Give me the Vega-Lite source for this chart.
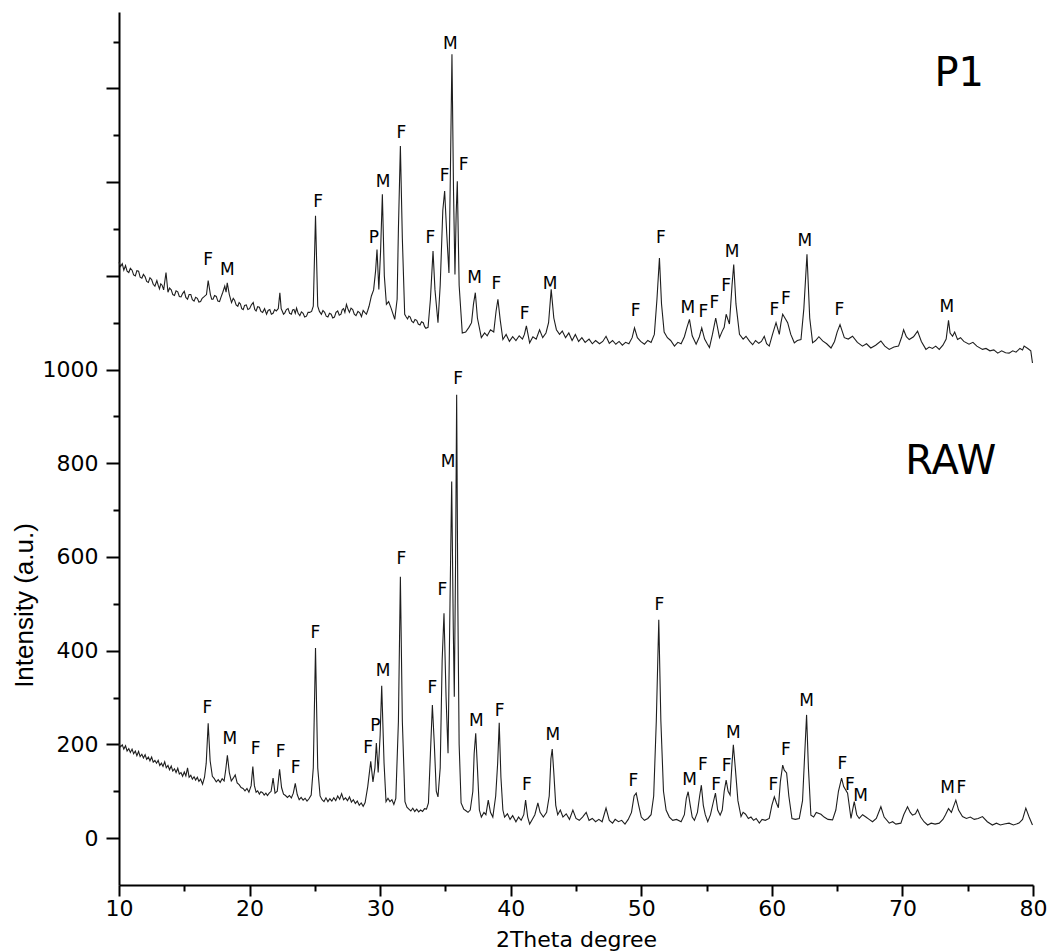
{
  "$schema": "https://vega.github.io/schema/vega-lite/v6.json",
  "width": 914,
  "height": 873,
  "autosize": {"type": "none"},
  "padding": {"left": 119, "top": 12, "right": 19, "bottom": 67},
  "background": "white",
  "config": {"view": {"stroke": null}, "font": "DejaVu Sans"},
  "datasets": {
    "raw": [
      {"x":10.0,"y":201},{"x":10.12,"y":195},{"x":10.25,"y":199},{"x":10.37,"y":190},{"x":10.5,"y":197},{"x":10.62,"y":186},{"x":10.75,"y":191},{"x":10.87,"y":183},{"x":11.0,"y":190},{"x":11.12,"y":180},{"x":11.25,"y":186},{"x":11.37,"y":176},{"x":11.5,"y":185},{"x":11.62,"y":174},{"x":11.75,"y":179},{"x":11.87,"y":171},{"x":12.0,"y":178},{"x":12.12,"y":168},{"x":12.25,"y":173},{"x":12.37,"y":165},{"x":12.5,"y":173},{"x":12.62,"y":162},{"x":12.75,"y":166},{"x":12.87,"y":160},{"x":13.0,"y":166},{"x":13.12,"y":155},{"x":13.25,"y":160},{"x":13.37,"y":153},{"x":13.5,"y":163},{"x":13.62,"y":150},{"x":13.75,"y":155},{"x":13.87,"y":146},{"x":14.0,"y":154},{"x":14.12,"y":143},{"x":14.25,"y":148},{"x":14.37,"y":140},{"x":14.5,"y":149},{"x":14.62,"y":137},{"x":14.75,"y":140},{"x":14.87,"y":132},{"x":15.0,"y":141},{"x":15.12,"y":133},{"x":15.25,"y":150},{"x":15.37,"y":130},{"x":15.5,"y":134},{"x":15.62,"y":126},{"x":15.75,"y":131},{"x":15.87,"y":124},{"x":16.0,"y":130},{"x":16.12,"y":121},{"x":16.25,"y":126},{"x":16.4,"y":115},{"x":16.55,"y":130},{"x":16.68,"y":160},{"x":16.83,"y":245},{"x":16.98,"y":165},{"x":17.15,"y":132},{"x":17.3,"y":127},{"x":17.45,"y":120},{"x":17.6,"y":125},{"x":17.75,"y":119},{"x":17.9,"y":127},{"x":18.05,"y":122},{"x":18.17,"y":145},{"x":18.3,"y":177},{"x":18.45,"y":140},{"x":18.6,"y":122},{"x":18.75,"y":128},{"x":18.9,"y":135},{"x":19.05,"y":118},{"x":19.2,"y":114},{"x":19.35,"y":108},{"x":19.5,"y":106},{"x":19.65,"y":101},{"x":19.8,"y":106},{"x":19.95,"y":98},{"x":20.12,"y":112},{"x":20.25,"y":153},{"x":20.37,"y":112},{"x":20.5,"y":98},{"x":20.62,"y":101},{"x":20.75,"y":94},{"x":20.87,"y":99},{"x":21.0,"y":97},{"x":21.12,"y":92},{"x":21.25,"y":96},{"x":21.37,"y":91},{"x":21.5,"y":96},{"x":21.65,"y":100},{"x":21.8,"y":128},{"x":21.95,"y":96},{"x":22.12,"y":100},{"x":22.3,"y":147},{"x":22.45,"y":108},{"x":22.6,"y":94},{"x":22.75,"y":91},{"x":22.9,"y":87},{"x":23.05,"y":91},{"x":23.2,"y":86},{"x":23.35,"y":96},{"x":23.5,"y":117},{"x":23.65,"y":93},{"x":23.8,"y":82},{"x":23.95,"y":87},{"x":24.1,"y":81},{"x":24.25,"y":85},{"x":24.4,"y":79},{"x":24.55,"y":84},{"x":24.72,"y":92},{"x":24.88,"y":150},{"x":25.05,"y":406},{"x":25.22,"y":150},{"x":25.4,"y":90},{"x":25.55,"y":82},{"x":25.7,"y":78},{"x":25.85,"y":86},{"x":26.0,"y":78},{"x":26.15,"y":84},{"x":26.3,"y":79},{"x":26.45,"y":86},{"x":26.6,"y":80},{"x":26.75,"y":90},{"x":26.9,"y":83},{"x":27.05,"y":95},{"x":27.2,"y":82},{"x":27.35,"y":86},{"x":27.5,"y":80},{"x":27.65,"y":88},{"x":27.8,"y":77},{"x":27.95,"y":82},{"x":28.1,"y":74},{"x":28.25,"y":79},{"x":28.4,"y":70},{"x":28.55,"y":75},{"x":28.7,"y":68},{"x":28.85,"y":76},{"x":29.05,"y":110},{"x":29.28,"y":164},{"x":29.45,"y":120},{"x":29.6,"y":150},{"x":29.71,"y":203},{"x":29.85,"y":140},{"x":30.0,"y":220},{"x":30.12,"y":325},{"x":30.3,"y":160},{"x":30.45,"y":78},{"x":30.6,"y":85},{"x":30.75,"y":78},{"x":30.9,"y":82},{"x":31.05,"y":72},{"x":31.2,"y":85},{"x":31.4,"y":250},{"x":31.55,"y":558},{"x":31.7,"y":250},{"x":31.9,"y":78},{"x":32.05,"y":66},{"x":32.2,"y":62},{"x":32.35,"y":58},{"x":32.5,"y":64},{"x":32.65,"y":57},{"x":32.8,"y":62},{"x":32.95,"y":56},{"x":33.1,"y":60},{"x":33.25,"y":57},{"x":33.4,"y":63},{"x":33.55,"y":62},{"x":33.7,"y":75},{"x":33.85,"y":180},{"x":34.0,"y":284},{"x":34.15,"y":200},{"x":34.3,"y":100},{"x":34.43,"y":88},{"x":34.6,"y":150},{"x":34.75,"y":380},{"x":34.89,"y":480},{"x":35.05,"y":300},{"x":35.2,"y":181},{"x":35.35,"y":500},{"x":35.48,"y":761},{"x":35.6,"y":450},{"x":35.68,"y":302},{"x":35.78,"y":600},{"x":35.86,"y":946},{"x":35.95,"y":500},{"x":36.05,"y":200},{"x":36.2,"y":75},{"x":36.4,"y":62},{"x":36.6,"y":58},{"x":36.73,"y":55},{"x":36.9,"y":60},{"x":37.1,"y":100},{"x":37.2,"y":180},{"x":37.32,"y":224},{"x":37.45,"y":150},{"x":37.6,"y":60},{"x":37.75,"y":45},{"x":37.95,"y":55},{"x":38.1,"y":50},{"x":38.28,"y":81},{"x":38.45,"y":55},{"x":38.63,"y":45},{"x":38.85,"y":90},{"x":39.0,"y":160},{"x":39.12,"y":246},{"x":39.25,"y":130},{"x":39.4,"y":60},{"x":39.53,"y":45},{"x":39.75,"y":52},{"x":39.95,"y":40},{"x":40.15,"y":48},{"x":40.4,"y":35},{"x":40.6,"y":45},{"x":40.8,"y":38},{"x":41.0,"y":50},{"x":41.14,"y":81},{"x":41.3,"y":45},{"x":41.45,"y":30},{"x":41.65,"y":40},{"x":41.85,"y":50},{"x":42.08,"y":75},{"x":42.25,"y":55},{"x":42.5,"y":45},{"x":42.75,"y":55},{"x":42.95,"y":90},{"x":43.08,"y":170},{"x":43.18,"y":190},{"x":43.3,"y":140},{"x":43.45,"y":70},{"x":43.6,"y":50},{"x":43.8,"y":60},{"x":44.0,"y":45},{"x":44.25,"y":52},{"x":44.5,"y":40},{"x":44.76,"y":60},{"x":45.0,"y":42},{"x":45.25,"y":38},{"x":45.5,"y":45},{"x":45.78,"y":55},{"x":46.0,"y":38},{"x":46.25,"y":42},{"x":46.5,"y":35},{"x":46.75,"y":40},{"x":47.0,"y":35},{"x":47.3,"y":64},{"x":47.55,"y":38},{"x":47.8,"y":32},{"x":48.0,"y":40},{"x":48.25,"y":35},{"x":48.5,"y":38},{"x":48.75,"y":30},{"x":49.0,"y":40},{"x":49.25,"y":55},{"x":49.45,"y":90},{"x":49.61,"y":96},{"x":49.8,"y":70},{"x":50.0,"y":45},{"x":50.24,"y":38},{"x":50.5,"y":42},{"x":50.75,"y":50},{"x":50.95,"y":90},{"x":51.15,"y":250},{"x":51.34,"y":466},{"x":51.5,"y":250},{"x":51.7,"y":100},{"x":51.9,"y":60},{"x":52.15,"y":45},{"x":52.41,"y":38},{"x":52.7,"y":40},{"x":53.05,"y":35},{"x":53.3,"y":50},{"x":53.45,"y":85},{"x":53.59,"y":99},{"x":53.75,"y":70},{"x":53.9,"y":45},{"x":54.07,"y":38},{"x":54.3,"y":55},{"x":54.47,"y":90},{"x":54.6,"y":113},{"x":54.75,"y":70},{"x":54.9,"y":50},{"x":55.09,"y":35},{"x":55.3,"y":50},{"x":55.5,"y":75},{"x":55.68,"y":96},{"x":55.85,"y":60},{"x":56.04,"y":49},{"x":56.2,"y":60},{"x":56.35,"y":100},{"x":56.5,"y":124},{"x":56.65,"y":100},{"x":56.8,"y":92},{"x":56.95,"y":160},{"x":57.05,"y":199},{"x":57.2,"y":150},{"x":57.4,"y":80},{"x":57.64,"y":46},{"x":57.8,"y":55},{"x":57.99,"y":51},{"x":58.2,"y":42},{"x":58.4,"y":45},{"x":58.6,"y":38},{"x":58.8,"y":42},{"x":59.04,"y":32},{"x":59.25,"y":40},{"x":59.5,"y":38},{"x":59.8,"y":42},{"x":60.0,"y":70},{"x":60.19,"y":88},{"x":60.35,"y":75},{"x":60.5,"y":65},{"x":60.65,"y":120},{"x":60.83,"y":156},{"x":60.95,"y":145},{"x":61.13,"y":139},{"x":61.3,"y":90},{"x":61.54,"y":42},{"x":61.8,"y":40},{"x":62.1,"y":42},{"x":62.35,"y":80},{"x":62.5,"y":170},{"x":62.66,"y":263},{"x":62.8,"y":150},{"x":62.99,"y":49},{"x":63.2,"y":45},{"x":63.4,"y":55},{"x":63.76,"y":51},{"x":64.0,"y":45},{"x":64.3,"y":40},{"x":64.65,"y":39},{"x":64.9,"y":60},{"x":65.1,"y":100},{"x":65.34,"y":128},{"x":65.5,"y":110},{"x":65.8,"y":96},{"x":66.06,"y":42},{"x":66.31,"y":78},{"x":66.5,"y":50},{"x":66.69,"y":42},{"x":66.95,"y":50},{"x":67.2,"y":45},{"x":67.45,"y":40},{"x":67.71,"y":35},{"x":68.0,"y":42},{"x":68.35,"y":67},{"x":68.6,"y":45},{"x":68.99,"y":32},{"x":69.25,"y":35},{"x":69.5,"y":30},{"x":69.88,"y":32},{"x":70.1,"y":50},{"x":70.39,"y":67},{"x":70.6,"y":55},{"x":70.77,"y":49},{"x":71.0,"y":52},{"x":71.16,"y":61},{"x":71.4,"y":45},{"x":71.65,"y":35},{"x":71.93,"y":28},{"x":72.2,"y":32},{"x":72.5,"y":30},{"x":72.82,"y":32},{"x":73.1,"y":40},{"x":73.3,"y":50},{"x":73.53,"y":63},{"x":73.75,"y":55},{"x":74.09,"y":81},{"x":74.3,"y":60},{"x":74.6,"y":46},{"x":74.9,"y":42},{"x":75.2,"y":45},{"x":75.5,"y":40},{"x":75.8,"y":42},{"x":76.13,"y":46},{"x":76.5,"y":35},{"x":76.89,"y":28},{"x":77.2,"y":32},{"x":77.5,"y":28},{"x":77.8,"y":30},{"x":78.17,"y":32},{"x":78.5,"y":28},{"x":78.93,"y":32},{"x":79.2,"y":40},{"x":79.45,"y":64},{"x":79.7,"y":45},{"x":79.96,"y":28}
    ],
    "p1": [
      {"x":10.0,"y":1229},{"x":10.12,"y":1220},{"x":10.25,"y":1226},{"x":10.37,"y":1212},{"x":10.5,"y":1222},{"x":10.62,"y":1210},{"x":10.75,"y":1207},{"x":10.87,"y":1216},{"x":11.0,"y":1212},{"x":11.12,"y":1202},{"x":11.25,"y":1200},{"x":11.37,"y":1211},{"x":11.5,"y":1210},{"x":11.62,"y":1197},{"x":11.75,"y":1195},{"x":11.87,"y":1203},{"x":12.0,"y":1198},{"x":12.12,"y":1188},{"x":12.25,"y":1186},{"x":12.37,"y":1196},{"x":12.5,"y":1192},{"x":12.62,"y":1182},{"x":12.75,"y":1178},{"x":12.9,"y":1190},{"x":13.0,"y":1180},{"x":13.1,"y":1172},{"x":13.2,"y":1183},{"x":13.3,"y":1180},{"x":13.42,"y":1170},{"x":13.6,"y":1207},{"x":13.75,"y":1165},{"x":13.87,"y":1174},{"x":14.0,"y":1170},{"x":14.12,"y":1160},{"x":14.25,"y":1158},{"x":14.37,"y":1168},{"x":14.5,"y":1166},{"x":14.62,"y":1156},{"x":14.75,"y":1155},{"x":14.87,"y":1162},{"x":15.0,"y":1167},{"x":15.12,"y":1154},{"x":15.25,"y":1150},{"x":15.37,"y":1160},{"x":15.5,"y":1160},{"x":15.62,"y":1149},{"x":15.75,"y":1146},{"x":15.87,"y":1154},{"x":16.0,"y":1152},{"x":16.12,"y":1144},{"x":16.25,"y":1145},{"x":16.37,"y":1152},{"x":16.5,"y":1155},{"x":16.7,"y":1160},{"x":16.83,"y":1190},{"x":17.0,"y":1160},{"x":17.1,"y":1150},{"x":17.2,"y":1150},{"x":17.32,"y":1158},{"x":17.45,"y":1156},{"x":17.57,"y":1146},{"x":17.7,"y":1145},{"x":17.82,"y":1155},{"x":17.95,"y":1165},{"x":18.1,"y":1178},{"x":18.2,"y":1165},{"x":18.29,"y":1185},{"x":18.45,"y":1160},{"x":18.62,"y":1143},{"x":18.75,"y":1152},{"x":18.85,"y":1148},{"x":18.97,"y":1138},{"x":19.1,"y":1135},{"x":19.2,"y":1143},{"x":19.3,"y":1140},{"x":19.4,"y":1130},{"x":19.51,"y":1128},{"x":19.62,"y":1137},{"x":19.75,"y":1138},{"x":19.87,"y":1128},{"x":20.0,"y":1130},{"x":20.14,"y":1138},{"x":20.28,"y":1143},{"x":20.4,"y":1128},{"x":20.5,"y":1125},{"x":20.62,"y":1134},{"x":20.75,"y":1133},{"x":20.87,"y":1124},{"x":21.0,"y":1122},{"x":21.15,"y":1130},{"x":21.3,"y":1118},{"x":21.42,"y":1126},{"x":21.55,"y":1128},{"x":21.67,"y":1118},{"x":21.8,"y":1120},{"x":21.92,"y":1128},{"x":22.05,"y":1125},{"x":22.2,"y":1130},{"x":22.32,"y":1164},{"x":22.42,"y":1130},{"x":22.5,"y":1125},{"x":22.6,"y":1118},{"x":22.7,"y":1121},{"x":22.82,"y":1128},{"x":22.95,"y":1130},{"x":23.07,"y":1120},{"x":23.2,"y":1118},{"x":23.3,"y":1127},{"x":23.4,"y":1128},{"x":23.5,"y":1120},{"x":23.6,"y":1131},{"x":23.72,"y":1120},{"x":23.85,"y":1115},{"x":23.97,"y":1123},{"x":24.1,"y":1120},{"x":24.22,"y":1112},{"x":24.36,"y":1114},{"x":24.48,"y":1122},{"x":24.6,"y":1122},{"x":24.75,"y":1124},{"x":24.88,"y":1135},{"x":25.05,"y":1328},{"x":25.22,"y":1135},{"x":25.35,"y":1124},{"x":25.5,"y":1118},{"x":25.62,"y":1126},{"x":25.75,"y":1122},{"x":25.87,"y":1114},{"x":26.0,"y":1112},{"x":26.12,"y":1120},{"x":26.25,"y":1118},{"x":26.37,"y":1110},{"x":26.5,"y":1112},{"x":26.62,"y":1122},{"x":26.75,"y":1125},{"x":26.87,"y":1116},{"x":27.0,"y":1118},{"x":27.1,"y":1128},{"x":27.2,"y":1130},{"x":27.3,"y":1122},{"x":27.42,"y":1139},{"x":27.55,"y":1128},{"x":27.65,"y":1122},{"x":27.77,"y":1131},{"x":27.9,"y":1128},{"x":28.02,"y":1118},{"x":28.15,"y":1115},{"x":28.3,"y":1124},{"x":28.44,"y":1121},{"x":28.57,"y":1113},{"x":28.7,"y":1126},{"x":28.82,"y":1122},{"x":28.95,"y":1118},{"x":29.05,"y":1126},{"x":29.15,"y":1135},{"x":29.33,"y":1157},{"x":29.5,"y":1170},{"x":29.65,"y":1210},{"x":29.76,"y":1256},{"x":29.9,"y":1171},{"x":30.03,"y":1250},{"x":30.17,"y":1374},{"x":30.32,"y":1200},{"x":30.48,"y":1139},{"x":30.65,"y":1145},{"x":30.85,"y":1130},{"x":31.12,"y":1107},{"x":31.3,"y":1150},{"x":31.4,"y":1300},{"x":31.55,"y":1477},{"x":31.7,"y":1280},{"x":31.88,"y":1118},{"x":32.0,"y":1112},{"x":32.1,"y":1108},{"x":32.2,"y":1114},{"x":32.3,"y":1112},{"x":32.42,"y":1103},{"x":32.55,"y":1100},{"x":32.67,"y":1107},{"x":32.8,"y":1105},{"x":32.92,"y":1097},{"x":33.05,"y":1095},{"x":33.17,"y":1102},{"x":33.3,"y":1100},{"x":33.4,"y":1092},{"x":33.5,"y":1088},{"x":33.67,"y":1090},{"x":33.85,"y":1150},{"x":34.05,"y":1253},{"x":34.2,"y":1170},{"x":34.43,"y":1100},{"x":34.6,"y":1180},{"x":34.8,"y":1340},{"x":34.94,"y":1381},{"x":35.1,"y":1290},{"x":35.27,"y":1206},{"x":35.38,"y":1420},{"x":35.5,"y":1673},{"x":35.62,"y":1380},{"x":35.73,"y":1203},{"x":35.82,"y":1330},{"x":35.91,"y":1402},{"x":36.05,"y":1180},{"x":36.29,"y":1078},{"x":36.55,"y":1080},{"x":36.8,"y":1090},{"x":37.0,"y":1100},{"x":37.15,"y":1140},{"x":37.29,"y":1164},{"x":37.45,"y":1110},{"x":37.75,"y":1068},{"x":38.0,"y":1078},{"x":38.2,"y":1072},{"x":38.45,"y":1085},{"x":38.7,"y":1080},{"x":38.88,"y":1125},{"x":39.02,"y":1150},{"x":39.2,"y":1105},{"x":39.4,"y":1064},{"x":39.65,"y":1075},{"x":39.9,"y":1060},{"x":40.15,"y":1070},{"x":40.4,"y":1062},{"x":40.65,"y":1072},{"x":40.9,"y":1065},{"x":41.05,"y":1075},{"x":41.2,"y":1093},{"x":41.45,"y":1057},{"x":41.7,"y":1070},{"x":41.95,"y":1065},{"x":42.21,"y":1085},{"x":42.45,"y":1068},{"x":42.7,"y":1078},{"x":42.9,"y":1100},{"x":43.1,"y":1171},{"x":43.3,"y":1110},{"x":43.5,"y":1085},{"x":43.74,"y":1075},{"x":43.95,"y":1082},{"x":44.2,"y":1068},{"x":44.45,"y":1078},{"x":44.7,"y":1062},{"x":44.95,"y":1075},{"x":45.2,"y":1060},{"x":45.45,"y":1068},{"x":45.7,"y":1058},{"x":46.0,"y":1065},{"x":46.25,"y":1055},{"x":46.5,"y":1062},{"x":46.8,"y":1055},{"x":47.05,"y":1060},{"x":47.3,"y":1071},{"x":47.55,"y":1056},{"x":47.8,"y":1062},{"x":48.05,"y":1054},{"x":48.3,"y":1060},{"x":48.55,"y":1052},{"x":48.8,"y":1058},{"x":49.05,"y":1055},{"x":49.3,"y":1068},{"x":49.48,"y":1089},{"x":49.7,"y":1068},{"x":49.95,"y":1060},{"x":50.24,"y":1054},{"x":50.5,"y":1062},{"x":50.75,"y":1058},{"x":51.0,"y":1075},{"x":51.2,"y":1150},{"x":51.39,"y":1238},{"x":51.55,"y":1140},{"x":51.75,"y":1080},{"x":52.0,"y":1068},{"x":52.25,"y":1062},{"x":52.54,"y":1050},{"x":52.8,"y":1058},{"x":53.05,"y":1055},{"x":53.3,"y":1070},{"x":53.5,"y":1090},{"x":53.69,"y":1107},{"x":53.9,"y":1072},{"x":54.2,"y":1054},{"x":54.45,"y":1070},{"x":54.63,"y":1089},{"x":54.85,"y":1065},{"x":55.05,"y":1055},{"x":55.22,"y":1047},{"x":55.45,"y":1075},{"x":55.7,"y":1110},{"x":55.99,"y":1068},{"x":56.2,"y":1082},{"x":56.35,"y":1090},{"x":56.5,"y":1118},{"x":56.75,"y":1097},{"x":56.95,"y":1180},{"x":57.08,"y":1224},{"x":57.25,"y":1140},{"x":57.52,"y":1075},{"x":57.8,"y":1065},{"x":58.02,"y":1071},{"x":58.3,"y":1060},{"x":58.53,"y":1053},{"x":58.75,"y":1062},{"x":59.0,"y":1056},{"x":59.2,"y":1060},{"x":59.42,"y":1071},{"x":59.6,"y":1055},{"x":59.8,"y":1050},{"x":60.05,"y":1075},{"x":60.32,"y":1100},{"x":60.57,"y":1075},{"x":60.7,"y":1100},{"x":60.83,"y":1118},{"x":61.0,"y":1110},{"x":61.21,"y":1100},{"x":61.45,"y":1075},{"x":61.72,"y":1057},{"x":61.95,"y":1062},{"x":62.23,"y":1064},{"x":62.45,"y":1130},{"x":62.69,"y":1246},{"x":62.9,"y":1110},{"x":63.12,"y":1057},{"x":63.35,"y":1062},{"x":63.6,"y":1070},{"x":63.89,"y":1061},{"x":64.2,"y":1055},{"x":64.53,"y":1046},{"x":64.8,"y":1060},{"x":65.0,"y":1080},{"x":65.22,"y":1096},{"x":65.55,"y":1068},{"x":65.85,"y":1065},{"x":66.18,"y":1071},{"x":66.55,"y":1058},{"x":66.94,"y":1050},{"x":67.25,"y":1055},{"x":67.58,"y":1046},{"x":67.95,"y":1052},{"x":68.35,"y":1061},{"x":68.65,"y":1050},{"x":68.99,"y":1043},{"x":69.35,"y":1048},{"x":69.7,"y":1050},{"x":69.95,"y":1070},{"x":70.09,"y":1085},{"x":70.3,"y":1070},{"x":70.52,"y":1064},{"x":70.85,"y":1070},{"x":71.16,"y":1082},{"x":71.45,"y":1060},{"x":71.8,"y":1043},{"x":72.05,"y":1048},{"x":72.3,"y":1045},{"x":72.55,"y":1050},{"x":72.82,"y":1043},{"x":73.1,"y":1052},{"x":73.35,"y":1065},{"x":73.53,"y":1105},{"x":73.65,"y":1078},{"x":73.84,"y":1071},{"x":74.0,"y":1080},{"x":74.22,"y":1064},{"x":74.45,"y":1068},{"x":74.7,"y":1060},{"x":75.1,"y":1054},{"x":75.4,"y":1058},{"x":75.7,"y":1050},{"x":76.13,"y":1043},{"x":76.4,"y":1045},{"x":76.7,"y":1040},{"x":77.0,"y":1042},{"x":77.3,"y":1035},{"x":77.6,"y":1040},{"x":77.9,"y":1036},{"x":78.17,"y":1035},{"x":78.45,"y":1040},{"x":78.7,"y":1037},{"x":79.0,"y":1045},{"x":79.2,"y":1042},{"x":79.32,"y":1050},{"x":79.6,"y":1045},{"x":79.83,"y":1040},{"x":79.96,"y":1014}
    ],
    "labels": [
      {"x":16.76,"y":277,"t":"F"},{"x":18.49,"y":211,"t":"M"},{"x":20.46,"y":190,"t":"F"},{"x":22.37,"y":184,"t":"F"},{"x":23.52,"y":150,"t":"F"},{"x":25.05,"y":437,"t":"F"},{"x":29.08,"y":192,"t":"F"},{"x":29.64,"y":240,"t":"P"},{"x":30.22,"y":357,"t":"M"},{"x":31.63,"y":596,"t":"F"},{"x":34.0,"y":320,"t":"F"},{"x":34.76,"y":530,"t":"F"},{"x":35.2,"y":802,"t":"M"},{"x":35.97,"y":979,"t":"F"},{"x":37.36,"y":249,"t":"M"},{"x":39.15,"y":272,"t":"F"},{"x":41.24,"y":113,"t":"F"},{"x":43.23,"y":220,"t":"M"},{"x":49.4,"y":122,"t":"F"},{"x":51.39,"y":498,"t":"F"},{"x":53.69,"y":125,"t":"M"},{"x":54.71,"y":156,"t":"F"},{"x":55.73,"y":114,"t":"F"},{"x":56.54,"y":154,"t":"F"},{"x":57.05,"y":224,"t":"M"},{"x":60.11,"y":114,"t":"F"},{"x":61.08,"y":188,"t":"F"},{"x":62.66,"y":293,"t":"M"},{"x":65.4,"y":158,"t":"F"},{"x":65.98,"y":114,"t":"F"},{"x":66.8,"y":90,"t":"M"},{"x":73.45,"y":106,"t":"M"},{"x":74.52,"y":106,"t":"F"},
      {"x":16.83,"y":1233,"t":"F"},{"x":18.29,"y":1212,"t":"M"},{"x":25.25,"y":1358,"t":"F"},{"x":29.52,"y":1280,"t":"P"},{"x":30.22,"y":1401,"t":"M"},{"x":31.63,"y":1505,"t":"F"},{"x":33.84,"y":1281,"t":"F"},{"x":34.94,"y":1413,"t":"F"},{"x":35.37,"y":1694,"t":"M"},{"x":36.4,"y":1437,"t":"F"},{"x":37.24,"y":1196,"t":"M"},{"x":38.9,"y":1183,"t":"F"},{"x":41.06,"y":1119,"t":"F"},{"x":43.02,"y":1182,"t":"M"},{"x":49.56,"y":1125,"t":"F"},{"x":51.51,"y":1281,"t":"F"},{"x":53.56,"y":1132,"t":"M"},{"x":54.76,"y":1122,"t":"F"},{"x":55.6,"y":1142,"t":"F"},{"x":56.49,"y":1179,"t":"F"},{"x":56.95,"y":1251,"t":"M"},{"x":60.19,"y":1126,"t":"F"},{"x":61.08,"y":1150,"t":"F"},{"x":62.53,"y":1274,"t":"M"},{"x":65.17,"y":1128,"t":"F"},{"x":73.4,"y":1134,"t":"M"}
    ],
    "names": [
      {"x":74.35,"y":1630,"t":"P1"},
      {"x":73.7,"y":803,"t":"RAW"}
    ]
  },
  "layer": [
    {
      "data": {"name": "raw"},
      "mark": {"type": "line", "color": "#1e1e1e", "strokeWidth": 1.1},
      "encoding": {
        "x": {
          "field": "x", "type": "quantitative",
          "scale": {"domain": [10, 80], "nice": false, "zero": false},
          "axis": {
            "values": [10,15,20,25,30,35,40,45,50,55,60,65,70,75,80],
            "labelExpr": "datum.value % 10 === 0 ? datum.label : ''",
            "tickSize": {"condition": {"test": "datum.value % 10 === 0", "value": 11}, "value": 6},
            "grid": false,
            "domainColor": "black", "domainWidth": 2,
            "tickColor": "black", "tickWidth": 2,
            "labelFont": "DejaVu Sans", "labelFontSize": 22, "labelColor": "black",
            "labelPadding": 2, "labelFlush": false, "labelOverlap": false,
            "title": "2Theta degree",
            "titleFont": "DejaVu Sans", "titleFontSize": 22, "titleFontWeight": "normal", "titleColor": "black",
            "titleX": 457, "titleY": 61, "titleBaseline": "alphabetic", "titleAlign": "center"
          }
        },
        "y": {
          "field": "y", "type": "quantitative",
          "scale": {"domain": [-100, 1763], "nice": false, "zero": false},
          "axis": {
            "values": [0,100,200,300,400,500,600,700,800,900,1000,1100,1200,1300,1400,1500,1600,1700],
            "format": "d",
            "labelExpr": "datum.value <= 1000 && datum.value % 200 === 0 ? datum.label : ''",
            "tickSize": {"condition": {"test": "datum.value % 200 === 0", "value": 13}, "value": 6},
            "grid": false,
            "domainColor": "black", "domainWidth": 2,
            "tickColor": "black", "tickWidth": 2,
            "labelFont": "DejaVu Sans", "labelFontSize": 22, "labelColor": "black",
            "labelPadding": 8, "labelOverlap": false, "labelFlush": false,
            "title": "Intensity (a.u.)",
            "titleFont": "Liberation Sans", "titleFontSize": 26, "titleFontWeight": "normal", "titleColor": "black",
            "titleAngle": -90, "titleX": -87, "titleY": 593, "titleBaseline": "alphabetic", "titleAlign": "center"
          }
        }
      }
    },
    {
      "data": {"name": "p1"},
      "mark": {"type": "line", "color": "#1e1e1e", "strokeWidth": 1.1},
      "encoding": {
        "x": {"field": "x", "type": "quantitative"},
        "y": {"field": "y", "type": "quantitative"}
      }
    },
    {
      "data": {"name": "labels"},
      "mark": {"type": "text", "font": "DejaVu Sans", "fontSize": 17, "color": "black", "baseline": "middle", "align": "center"},
      "encoding": {
        "x": {"field": "x", "type": "quantitative"},
        "y": {"field": "y", "type": "quantitative"},
        "text": {"field": "t"}
      }
    },
    {
      "data": {"name": "names"},
      "mark": {"type": "text", "font": "DejaVu Sans", "fontSize": 40, "color": "black", "baseline": "middle", "align": "center"},
      "encoding": {
        "x": {"field": "x", "type": "quantitative"},
        "y": {"field": "y", "type": "quantitative"},
        "text": {"field": "t"}
      }
    }
  ]
}
